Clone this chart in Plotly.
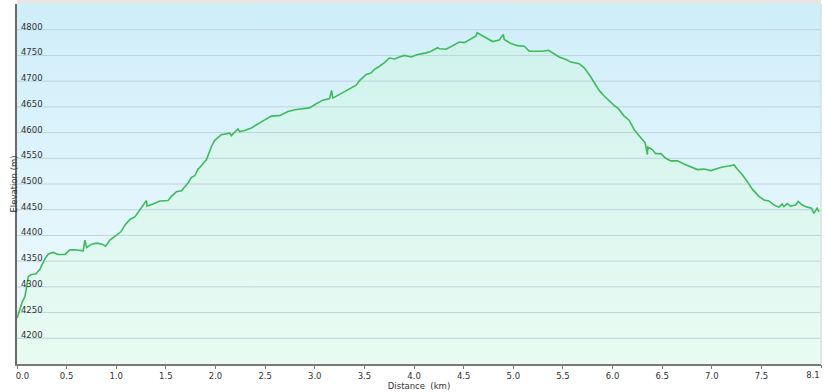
import plotly.graph_objects as go

distance_km = [0.0, 0.053, 0.08, 0.114, 0.141, 0.188, 0.231, 0.282, 0.315, 0.365, 0.415, 0.483, 0.533,
               0.584, 0.667, 0.684, 0.701, 0.752, 0.802, 0.858, 0.892, 0.936, 0.986, 1.046, 1.087, 1.137,
               1.187, 1.237, 1.305, 1.31, 1.371, 1.439, 1.522, 1.556, 1.607, 1.657, 1.690, 1.723, 1.758,
               1.791, 1.824, 1.841, 1.908, 1.959, 1.992, 2.059, 2.143, 2.159, 2.226, 2.243, 2.294, 2.361,
               2.428, 2.495, 2.562, 2.646, 2.729, 2.814, 2.948, 3.015, 3.081, 3.149, 3.169, 3.182, 3.249,
               3.333, 3.417, 3.451, 3.518, 3.568, 3.602, 3.652, 3.702, 3.753, 3.803, 3.853, 3.903, 3.971,
               4.037, 4.122, 4.172, 4.238, 4.256, 4.323, 4.373, 4.457, 4.507, 4.574, 4.625, 4.635, 4.691,
               4.741, 4.792, 4.859, 4.899, 4.909, 4.977, 5.043, 5.111, 5.161, 5.245, 5.295, 5.355, 5.395,
               5.463, 5.530, 5.580, 5.664, 5.714, 5.765, 5.815, 5.865, 5.915, 5.966, 6.016, 6.060, 6.117,
               6.167, 6.217, 6.268, 6.328, 6.351, 6.355, 6.401, 6.435, 6.486, 6.536, 6.587, 6.653, 6.720,
               6.788, 6.854, 6.922, 6.989, 7.039, 7.106, 7.173, 7.223, 7.256, 7.307, 7.357, 7.408, 7.475,
               7.525, 7.575, 7.626, 7.676, 7.709, 7.726, 7.760, 7.794, 7.844, 7.870, 7.911, 7.961, 8.005,
               8.028, 8.061, 8.08]
elevation_m = [4239, 4271, 4281, 4320, 4324, 4325, 4334, 4355, 4364, 4367, 4363, 4363, 4372,
               4372, 4370, 4391, 4376, 4383, 4385, 4383, 4379, 4391, 4398, 4407, 4420, 4431,
               4436, 4450, 4468, 4457, 4461, 4467, 4468, 4476, 4485, 4487, 4495, 4502, 4513,
               4516, 4529, 4532, 4547, 4573, 4585, 4596, 4599, 4594, 4607, 4602, 4604, 4609,
               4617, 4624, 4632, 4633, 4641, 4645, 4648, 4656, 4663, 4666, 4682, 4667, 4674,
               4682, 4692, 4701, 4713, 4716, 4723, 4729, 4736, 4745, 4743, 4747, 4750, 4747,
               4752, 4755, 4758, 4765, 4763, 4762, 4767, 4776, 4775, 4782, 4788, 4794, 4788,
               4782, 4777, 4780, 4791, 4781, 4773, 4769, 4768, 4758, 4758, 4758, 4760, 4755,
               4747, 4742, 4737, 4734, 4726, 4713, 4697, 4682, 4671, 4661, 4653, 4646, 4632,
               4624, 4606, 4594, 4580, 4557, 4572, 4567, 4559, 4559, 4550, 4545, 4545, 4539,
               4533, 4528, 4529, 4526, 4529, 4533, 4535, 4537, 4529, 4518, 4505, 4490, 4476,
               4469, 4467, 4459, 4455, 4461, 4456, 4462, 4457, 4459, 4466, 4459, 4455, 4453,
               4443, 4453, 4446]

y_min, y_max = 4150, 4850
x_min, x_max = 0.0, 8.1
y_ticks = list(range(4200, 4801, 50))
x_ticks = [0.0, 0.5, 1.0, 1.5, 2.0, 2.5, 3.0, 3.5, 4.0, 4.5, 5.0, 5.5, 6.0, 6.5, 7.0, 7.5]
NB = "\u00a0"
x_tick_text = [NB * 4 + "0.0", "0.5", "1.0", "1.5", "2.0", "2.5", "3.0", "3.5", "4.0", "4.5", "5.0", "5.5",
               "6.0", "6.5", "7.0", "7.5"]
x_end_tick = [8.1]
x_end_text = ["8.1"]

fig = go.Figure()

# background gradient (sky)
fig.add_trace(go.Scatter(x=[x_min, x_max], y=[y_min, y_min], mode="lines",
                         line=dict(width=0), hoverinfo="skip", showlegend=False))
fig.add_trace(go.Scatter(x=[x_min, x_max], y=[y_max, y_max], mode="lines",
                         line=dict(width=0), fill="tonexty", hoverinfo="skip", showlegend=False,
                         fillgradient=dict(type="vertical", start=y_min, stop=y_max,
                                           colorscale=[[0, "#f1fbfe"], [1, "#cfeef9"]])))

# area under the profile
fig.add_trace(go.Scatter(x=[distance_km[0], distance_km[-1]], y=[y_min, y_min], mode="lines",
                         line=dict(width=0), hoverinfo="skip", showlegend=False))
fig.add_trace(go.Scatter(x=distance_km, y=elevation_m, mode="lines",
                         line=dict(width=0), hoverinfo="skip",
                         fill="tonexty", showlegend=False,
                         fillgradient=dict(type="vertical", start=y_min, stop=y_max,
                                           colorscale=[[0, "#e9fbf2"], [1, "#cdf2ec"]])))

# horizontal grid lines drawn over the fills
grid_x, grid_y = [], []
for t in y_ticks:
    grid_x += [x_min, x_max, None]
    grid_y += [t, t, None]
fig.add_trace(go.Scatter(x=grid_x, y=grid_y, mode="lines",
                         line=dict(color="#bcd4dc", width=1),
                         hoverinfo="skip", showlegend=False))

# profile line (on overlaying x axis that carries the end tick)
fig.add_trace(go.Scatter(x=distance_km, y=elevation_m, mode="lines", xaxis="x2",
                         line=dict(color="#3dbb5c", width=1.6), showlegend=False))

tick_font = dict(family="DejaVu Sans, Verdana, sans-serif", size=8.5, color="#333333")

fig.update_layout(
    width=825, height=392,
    margin=dict(l=17, r=4, t=4, b=28),
    paper_bgcolor="white",
    plot_bgcolor="#e8f7fb",
    xaxis=dict(range=[x_min, x_max], tickvals=x_ticks, ticktext=x_tick_text,
               showgrid=False, zeroline=False, automargin=False,
               showline=True, linecolor="#7a7a7a", linewidth=1.5,
               ticks="outside", ticklen=3, tickcolor="#7a7a7a",
               tickfont=tick_font, ticklabeloverflow="allow",
               title=dict(text="Distance  (km)", font=tick_font, standoff=3)),
    xaxis2=dict(range=[x_min, x_max], overlaying="x", anchor="y", side="bottom",
                tickvals=x_end_tick, ticktext=x_end_text, ticklabelshift=-8,
                showgrid=False, zeroline=False, automargin=False, showline=False,
                ticks="outside", ticklen=3, tickcolor="#7a7a7a",
                tickfont=tick_font, ticklabeloverflow="allow"),
    yaxis=dict(range=[y_min, y_max], tickvals=y_ticks,
               showgrid=False, automargin=False,
               zeroline=False,
               showline=True, linecolor="#6a6a6a", linewidth=1.5,
               ticks="", ticklabelposition="outside top",
               ticklabelstandoff=-29, ticklabelshift=3,
               ticklabeloverflow="allow",
               tickfont=tick_font,
               title=dict(text="Elevation (m)", font=tick_font, standoff=2)),
    shapes=[
        dict(type="rect", xref="paper", yref="paper", x0=0, x1=1, y0=1, y1=1.011,
             fillcolor="#e6e6e6", line=dict(width=0)),
        dict(type="line", xref="paper", yref="paper", x0=1, x1=1, y0=0, y1=1,
             line=dict(color="#dcdcdc", width=1.5)),
    ],
)

fig.write_html("out.html")
